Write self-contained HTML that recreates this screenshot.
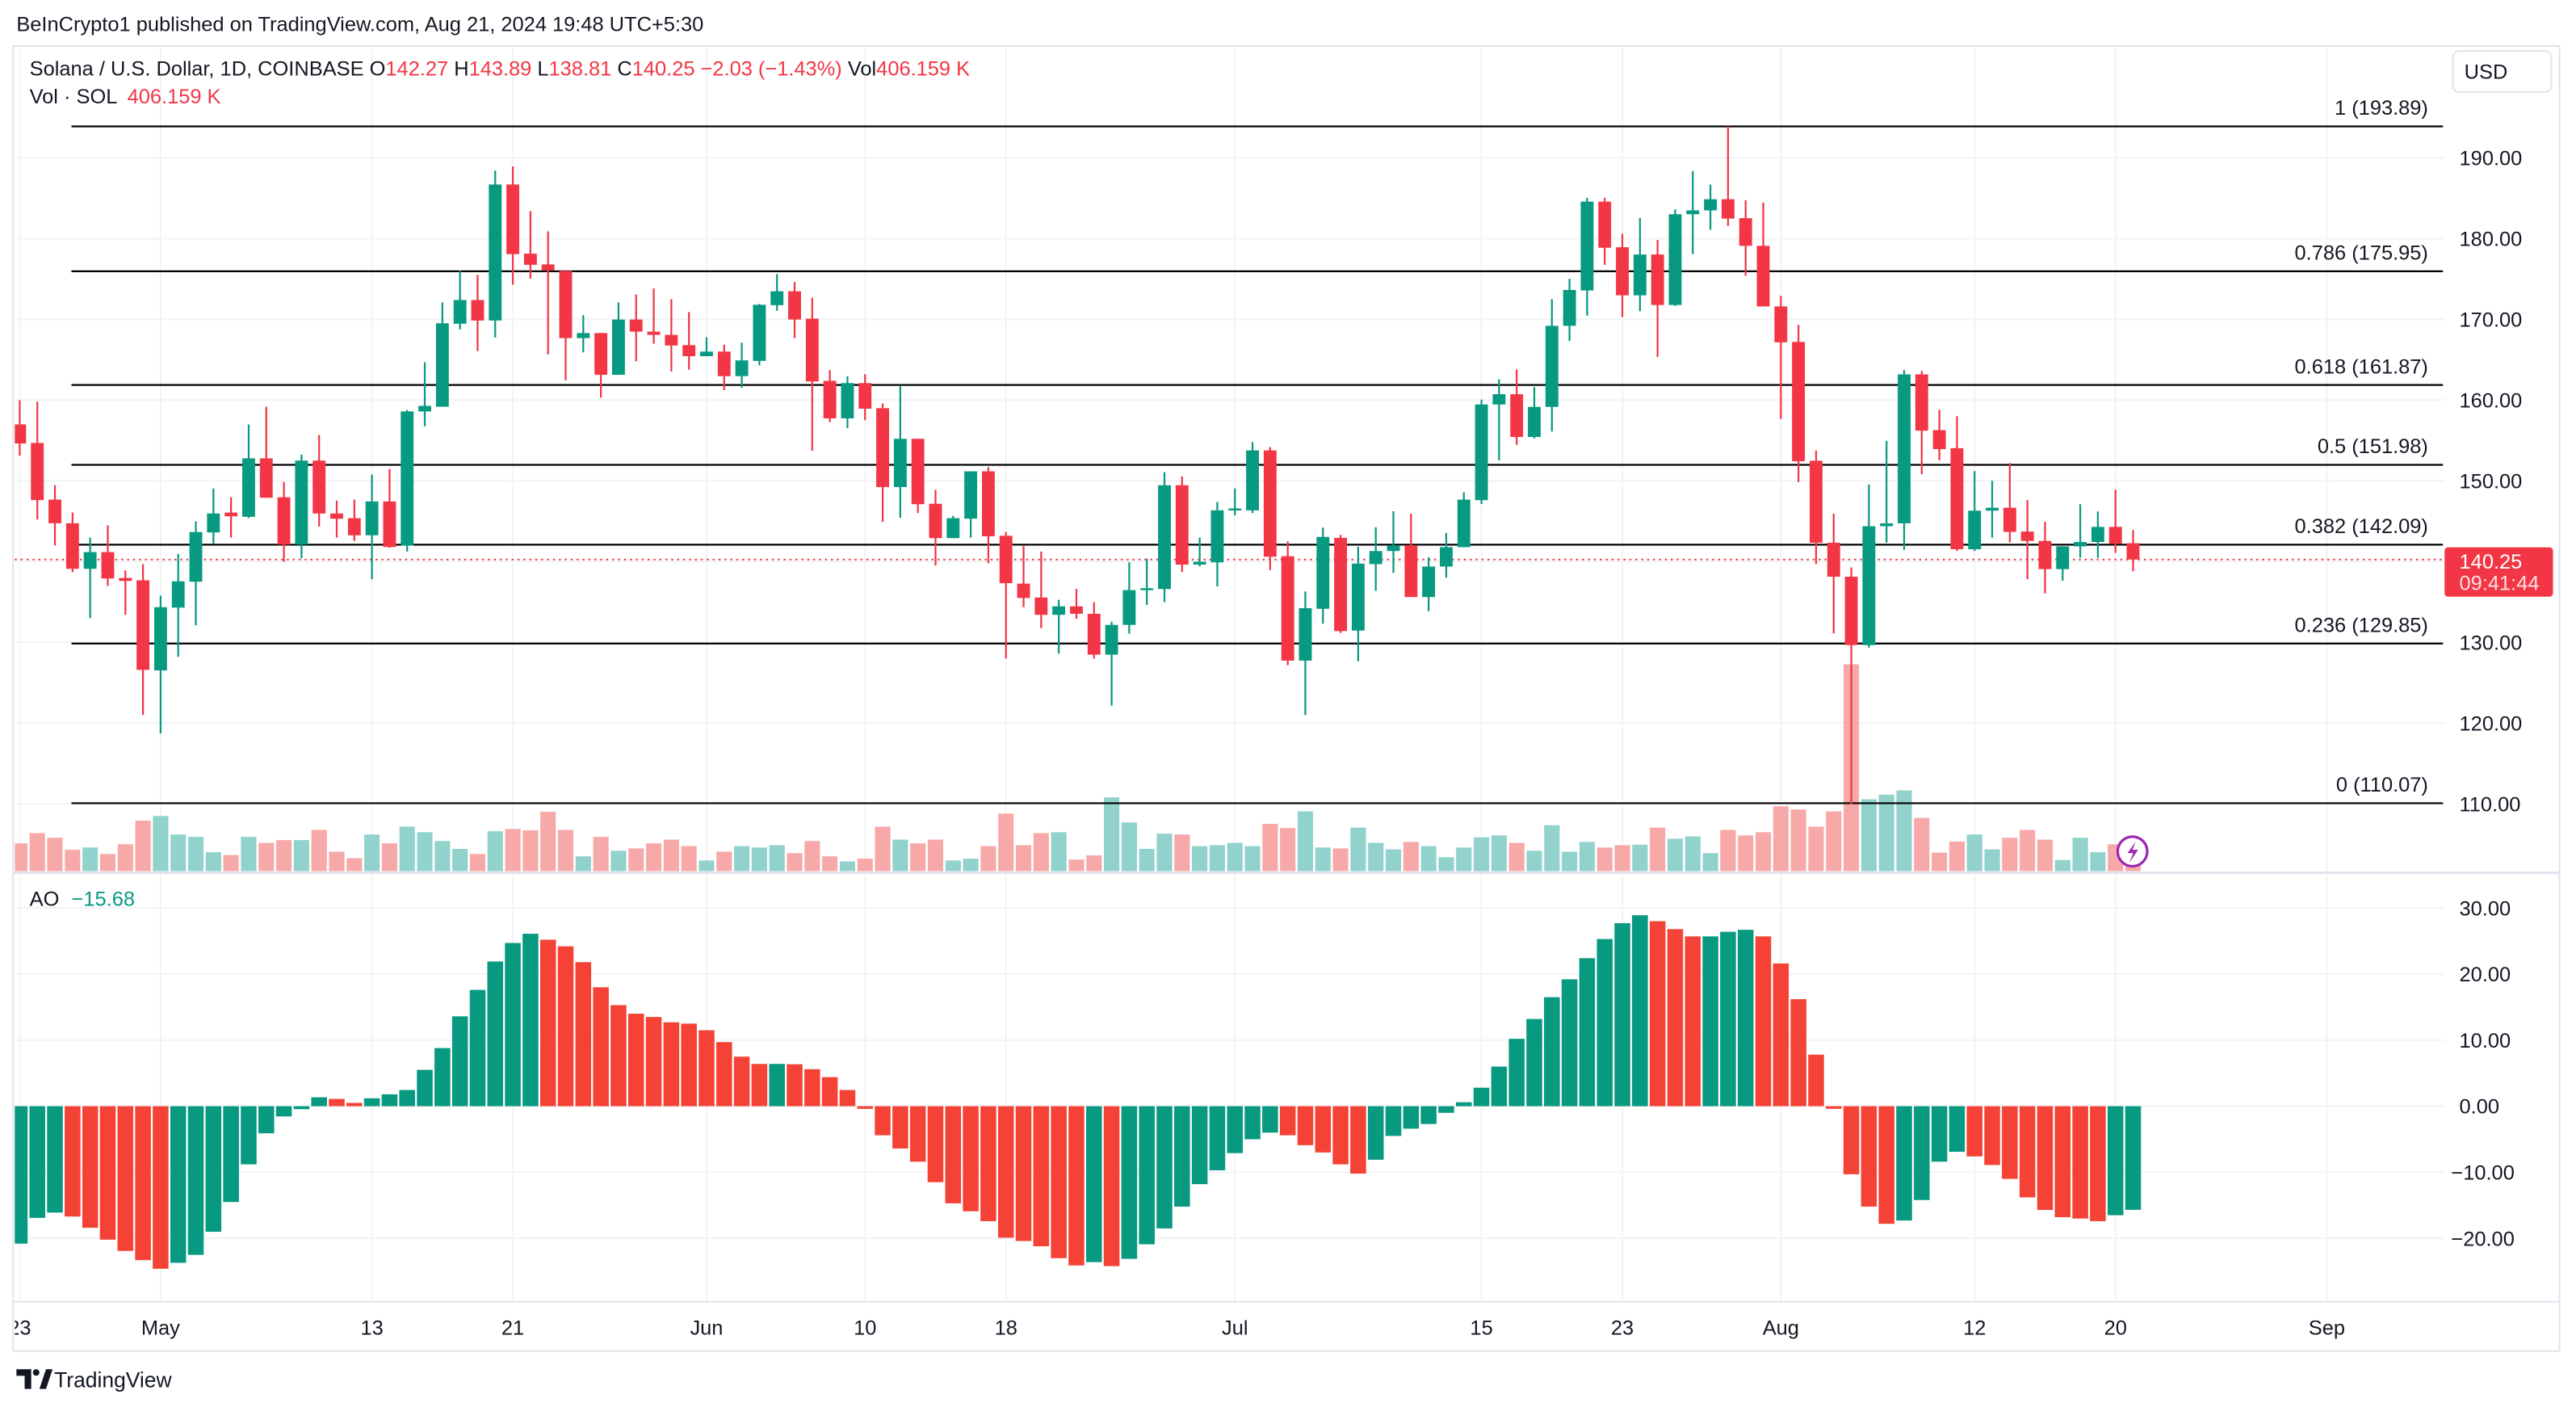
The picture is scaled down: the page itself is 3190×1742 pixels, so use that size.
<!DOCTYPE html>
<html><head><meta charset="utf-8"><style>
html,body{margin:0;padding:0;background:#fff;}
svg{display:block;font-family:"Liberation Sans",sans-serif;}
</style></head><body>
<svg id="chart" width="3190" height="1742" viewBox="0 0 1568 856" preserveAspectRatio="none" xmlns="http://www.w3.org/2000/svg">
<rect x="0" y="0" width="1568" height="856" fill="#fff"/>
<text x="10" y="19" font-size="12.5" fill="#131722">BeInCrypto1 published on TradingView.com, Aug 21, 2024 19:48 UTC+5:30</text>
<g id="grid"></g>
<g id="frame">
<line x1="8" y1="28" x2="1558" y2="28" stroke="#e0e3eb" stroke-width="1"/>
<line x1="1558" y1="28" x2="1558" y2="822" stroke="#e0e3eb" stroke-width="1"/>
<line x1="8" y1="28" x2="8" y2="822" stroke="#e0e3eb" stroke-width="1"/>
<line x1="8" y1="531" x2="1558" y2="531" stroke="#e0e3eb" stroke-width="1.5"/>
<line x1="8" y1="792" x2="1558" y2="792" stroke="#e0e3eb" stroke-width="1"/>
<line x1="8" y1="822" x2="1558" y2="822" stroke="#e0e3eb" stroke-width="1"/>
</g>
<defs><clipPath id="plotclip"><rect x="9" y="29" width="1479" height="763"/></clipPath></defs>
<g id="volumes" clip-path="url(#plotclip)"></g>
<g id="fibs"></g>
<g id="candles" clip-path="url(#plotclip)"></g>
<g id="ao" clip-path="url(#plotclip)"></g>
<g id="axes"></g>
<g font-size="12.5">
<text x="18" y="46" fill="#131722">Solana / U.S. Dollar, 1D, COINBASE <tspan>O</tspan><tspan fill="#f23645">142.27</tspan> <tspan>H</tspan><tspan fill="#f23645">143.89</tspan> <tspan>L</tspan><tspan fill="#f23645">138.81</tspan> <tspan>C</tspan><tspan fill="#f23645">140.25 −2.03 (−1.43%)</tspan> <tspan>Vol</tspan><tspan fill="#f23645">406.159 K</tspan></text>
<text x="18" y="63" fill="#131722">Vol · SOL <tspan fill="#f23645" dx="3">406.159 K</tspan></text>
<text x="18" y="551" fill="#131722">AO <tspan fill="#089981" dx="4">−15.68</tspan></text>
</g>
<g>
<rect x="1493" y="31" width="60" height="25" rx="4" fill="#fff" stroke="#e0e3eb"/>
<text x="1500" y="48" font-size="12.5" fill="#131722">USD</text>
</g>
<g>
<rect x="1488" y="333" width="66" height="30" rx="2" fill="#f23645"/>
<text x="1497" y="346" font-size="12.5" fill="#fff">140.25</text>
<text x="1497" y="359" font-size="12.5" fill="#fde0e2">09:41:44</text>
</g>
<g>
<circle cx="1298" cy="518" r="9" fill="#fff" stroke="#9c27b0" stroke-width="1.6"/>
<path d="M1300 512 L1295 519 L1298.5 519 L1296 525 L1301.5 517 L1298 517 Z" fill="#9c27b0"/>
</g>
<g>
<path d="M10 833 h9 v12 h-4 v-8 h-5 z" fill="#131722"/>
<circle cx="22" cy="835" r="2" fill="#131722"/>
<path d="M24 845 l4 -12 h4 l-4 12 z" fill="#131722"/>
<text x="33" y="844" font-size="13" fill="#131722">TradingView</text>
</g>
<script>
const opens=[156.98,154.68,147.67,144.74,139.1,141.17,137.96,137.67,126.52,134.29,137.5,143.6,146.06,145.54,152.78,147.96,142.1,152.5,145.95,145.37,143.25,147.44,141.98,158.59,159.17,169.45,172.38,169.85,186.69,178.13,176.8,176.0,167.67,168.3,163.13,169.97,168.47,
168.07,166.8,165.43,166.0,162.96,164.85,171.75,173.47,170.08,162.38,157.73,162.1,158.99,149.22,155.2,147.15,142.9,145.31,151.17,143.19,137.26,135.54,133.4,134.45,133.53,128.47,132.15,136.6,136.6,149.45,139.62,139.9,146.34,146.34,153.76,140.66,127.73,
134.15,142.93,131.45,139.68,141.3,142.02,135.6,139.38,141.78,147.6,159.45,160.72,155.43,159.15,169.19,173.57,184.57,178.92,172.97,178.02,171.77,183.01,183.49,184.87,182.53,179.1,171.59,167.2,152.48,142.33,138.12,129.65,144.37,144.73,163.18,156.27,154.04,141.52,146.3,146.66,143.71,142.55,139.06,141.88,142.42,144.29,142.27];
const closes=[154.62,147.61,144.74,139.1,141.17,137.9,137.6,126.58,134.34,137.55,143.65,145.95,145.6,152.78,147.9,142.1,152.5,145.95,145.3,143.25,147.44,141.8,158.59,159.28,169.5,172.38,169.85,186.69,178.07,176.75,176.06,167.67,168.3,163.13,169.97,168.47,168.07,
166.75,165.43,166.0,162.96,164.91,171.8,173.47,169.97,162.3,157.73,162.1,158.93,149.22,155.2,147.1,142.9,145.37,151.17,143.13,137.32,135.49,133.4,134.45,133.53,128.47,132.15,136.46,136.7,149.45,139.62,139.97,146.34,146.57,153.76,140.6,127.73,134.22,
143.05,131.39,139.74,141.3,142.02,135.6,139.38,141.78,147.67,159.45,160.72,155.43,159.15,169.19,173.63,184.57,178.86,172.97,178.02,171.77,183.01,183.49,184.87,182.47,179.1,171.59,167.15,152.42,142.33,138.12,129.65,144.37,144.73,163.18,156.21,153.92,141.52,146.3,146.66,143.67,142.55,139.06,141.88,142.42,144.29,142.19,140.25];
const highs=[159.97,159.8,149.45,146.06,142.96,144.5,138.9,139.68,135.77,140.94,144.97,149.05,147.96,156.98,159.17,149.85,153.24,155.66,147.55,147.67,150.77,151.46,158.76,164.68,172.1,176.0,175.5,188.42,188.93,183.41,180.89,176.0,170.5,168.3,172.1,173.07,173.82,
172.5,170.89,167.78,166.86,167.1,171.9,175.6,174.62,172.67,163.7,162.96,163.19,159.57,161.8,155.2,148.9,145.66,151.17,151.69,143.65,141.92,141.23,135.26,136.6,134.97,132.55,139.9,140.37,151.06,150.54,142.96,147.38,149.05,154.8,154.16,142.5,136.29,
144.2,143.3,141.84,144.25,146.23,145.93,140.52,143.53,148.57,160.05,162.58,163.78,161.6,172.49,175.02,185.05,185.05,180.6,182.53,179.82,183.61,188.36,186.68,193.89,184.75,184.45,172.91,169.31,153.74,145.93,139.26,149.54,154.95,163.72,163.6,158.79,158.0,151.2,150.0,152.2,147.6,144.92,141.88,147.1,146.2,148.9,143.89];
const lows=[153.13,145.2,142.0,138.7,133.0,136.98,133.4,121.0,118.7,128.2,132.1,142.2,142.96,145.4,147.9,139.97,140.4,144.34,142.96,142.55,137.8,141.7,141.23,156.75,159.2,168.76,166.06,167.73,174.28,175.03,165.66,162.44,165.9,160.3,163.1,164.8,166.98,
163.53,163.76,165.43,161.23,161.52,164.3,171.06,167.67,153.7,157.27,156.52,157.5,144.9,145.43,146.0,139.5,142.9,142.96,139.8,128.0,134.34,131.75,128.59,132.9,128.0,122.15,131.06,134.62,134.97,138.7,139.4,136.92,145.72,146.0,138.93,127.15,121.0,
132.3,131.15,127.66,136.37,138.6,135.6,133.85,138.0,141.78,147.13,152.54,154.46,155.25,156.1,167.3,170.45,176.76,170.27,171.0,165.34,171.65,178.08,181.09,181.57,175.38,171.59,157.65,149.84,139.68,131.09,109.93,129.35,142.33,141.43,150.8,152.54,141.3,141.3,142.95,142.37,137.8,136.06,137.63,140.49,140.45,141.07,138.81];
const volumes=[60,82,72,46,51,37,58,109,119,79,74,41,35,74,61,67,67,89,42,28,79,60,96,84,65,48,37,86,91,88,128,89,32,74,44,49,60,
68,54,23,42,54,51,56,39,65,32,21,27,96,68,60,68,23,27,54,124,56,82,84,25,34,159,105,48,81,79,54,56,61,54,102,93,129,
51,49,94,61,47,63,54,30,51,73,77,61,44,99,42,63,51,56,57,94,70,75,39,89,77,84,140,133,96,129,446,155,165,174,115,40,64,79,47,72,89,68,24,72,41,58,45];
const aoValues=[-20.8,-16.9,-16.1,-16.7,-18.4,-20.2,-21.9,-23.3,-24.6,-23.7,-22.5,-19.0,-14.5,-8.8,-4.1,-1.55,-0.45,1.35,1.1,0.5,1.2,1.8,2.45,5.5,8.8,13.6,17.6,21.9,24.7,26.1,25.2,24.2,21.8,18.0,15.3,14.0,13.5,12.7,12.5,11.5,9.7,7.5,6.4,6.4,6.35,5.6,4.4,2.45,-0.4,-4.4,-6.4,-8.4,-11.5,-14.7,-15.9,-17.4,-19.9,-20.4,-21.2,-23.0,-24.1,-23.6,-24.2,-23.1,
-20.9,-18.5,-15.2,-11.8,-9.7,-7.1,-5.0,-4.0,-4.4,-5.9,-7.0,-8.8,-10.2,-8.1,-4.5,-3.4,-2.7,-1.0,0.6,2.8,6.0,10.2,13.2,16.5,19.2,22.4,25.3,27.7,28.9,28.0,26.8,25.7,25.7,26.4,26.7,25.7,21.6,16.2,7.8,-0.4,-10.3,-15.2,-17.8,-17.3,-14.2,-8.4,-6.9,-7.6,-8.9,-11.0,-13.8,-15.7,-16.8,-17.0,-17.4,-16.5,-15.68];
const priceTicks=[190,180,170,160,150,140,130,120,110];
const aoTicks=[30,20,10,0,-10,-20];
const fibRatios=["1","0.786","0.618","0.5","0.382","0.236","0"];
const fibPrices=[193.89,175.95,161.87,151.98,142.09,129.85,110.07];
const dateLabels=["23","May","13","21","Jun","10","18","Jul","15","23","Aug","12","20","Sep"];
const dateIndex=[0,8,20,28,39,48,56,69,83,91,100,111,119,131];
const lastPrice=140.25;

const NS="http://www.w3.org/2000/svg";
function xAt(i){return 12+i*10.72;}
function py(p){return 96+(190-p)*4.9125;}
function ay(v){return 673-v*4.02;}
function vy(v){return 530-v/3.544;}
function mk(tag,attrs,parent){const e=document.createElementNS(NS,tag);for(const k in attrs)e.setAttribute(k,attrs[k]);parent.appendChild(e);return e;}
const G=document.getElementById('grid'),C=document.getElementById('candles'),V=document.getElementById('volumes'),A=document.getElementById('ao'),F=document.getElementById('fibs'),X=document.getElementById('axes');
const GREEN="#089981",RED="#f23645";
// grid
priceTicks.forEach(p=>{const l=mk('line',{x1:9,x2:1488,y1:py(p),y2:py(p),stroke:'#f2f3f5','stroke-width':1},G);

});
aoTicks.forEach(v=>{const l=mk('line',{x1:9,x2:1488,y1:ay(v),y2:ay(v),stroke:'#f2f3f5','stroke-width':1},G);

});
dateIndex.forEach(i=>{const l=mk('line',{x1:xAt(i),x2:xAt(i),y1:29,y2:792,stroke:'#f2f3f5','stroke-width':1},G);

});
// volumes
volumes.forEach((v,i)=>{const up=closes[i]>=opens[i];
const r=mk('rect',{x:xAt(i)-4.7,y:vy(v),width:9.4,height:530-vy(v),fill:up?'#92d2cc':'#f7a9a9'},V);

});
// fib levels
fibPrices.forEach((p,k)=>{const y=py(p);
const l=mk('line',{x1:43.5,x2:1487,y1:y,y2:y,stroke:'#000','stroke-width':1.1},F);


const t=mk('text',{x:1478,y:y-7,'font-size':12.5,fill:'#131722','text-anchor':'end'},F);
t.textContent=fibRatios[k]+' ('+p.toFixed(2)+')';

});
// last price line
const lp=mk('line',{x1:9,x2:1488,y1:py(lastPrice),y2:py(lastPrice),stroke:RED,'stroke-width':1,'stroke-dasharray':'1.2 2.4'},F);


// candles
opens.forEach((o,i)=>{const c=closes[i],up=c>=o,col=up?GREEN:RED,x=xAt(i);
const g=mk('g',{},C);


mk('line',{x1:x,x2:x,y1:py(highs[i]),y2:py(lows[i]),stroke:col,'stroke-width':1.1},g);
const top=py(Math.max(o,c)),bot=py(Math.min(o,c));
mk('rect',{x:x-3.9,y:top,width:7.8,height:Math.max(1.2,bot-top),fill:col},g);});
// AO
aoValues.forEach((v,i)=>{const up=i===0||v>=aoValues[i-1];
const y0=ay(0),y1=ay(v);
const r=mk('rect',{x:xAt(i)-4.8,y:Math.min(y0,y1),width:9.6,height:Math.max(0.8,Math.abs(y1-y0)),fill:up?GREEN:'#f44336'},A);

});
// axes labels
priceTicks.forEach(p=>{const t=mk('text',{x:1497,y:py(p)+4.5,'font-size':12.5,fill:'#131722'},X);
t.textContent=p.toFixed(2);

});
aoTicks.forEach(v=>{const t=mk('text',{x:v<0?1492:1497,y:ay(v)+4.5,'font-size':12.5,fill:'#131722'},X);
t.textContent=(v<0?'−':'')+Math.abs(v).toFixed(2);

});
const xclip=mk('clipPath',{id:'xclip'},X);mk('rect',{x:9,y:795,width:1479,height:25},xclip);
const xg=mk('g',{'clip-path':'url(#xclip)'},X);
dateLabels.forEach((d,k)=>{const t=mk('text',{x:xAt(dateIndex[k]),y:812,'font-size':12.5,fill:'#131722','text-anchor':'middle'},xg);
t.textContent=d;

});
</script>
</svg>
</body></html>
